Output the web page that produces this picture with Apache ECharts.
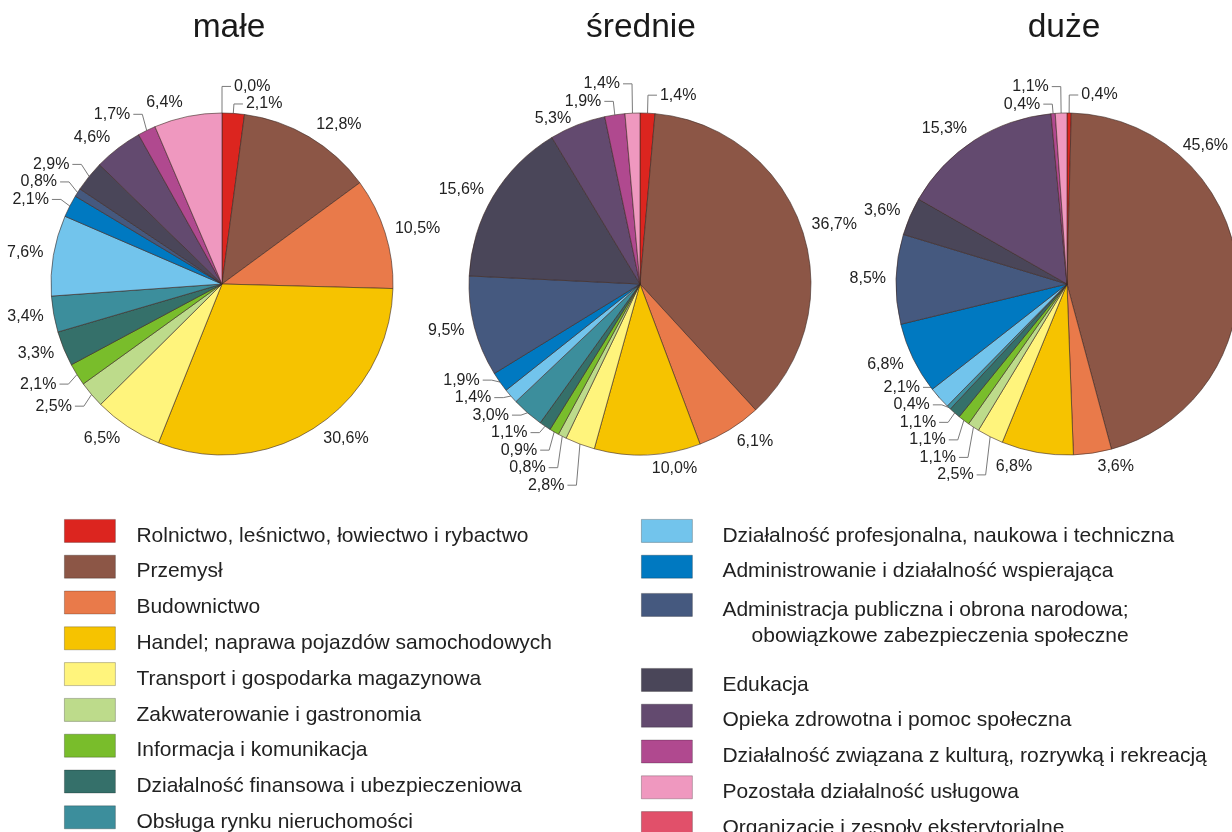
<!DOCTYPE html>
<html>
<head>
<meta charset="utf-8">
<title>Struktura według sekcji</title>
<script src="https://cdn.jsdelivr.net/npm/echarts@6/dist/echarts.min.js"></script>
<style>
  html, body { margin: 0; padding: 0; background: #fff; }
  #chart { width: 1232px; height: 832px; }
</style>
</head>
<body>
<div id="chart"></div>
<script>
// kategorie (sekcje)
const categories = [
  'Rolnictwo, leśnictwo, łowiectwo i rybactwo',
  'Przemysł',
  'Budownictwo',
  'Handel; naprawa pojazdów samochodowych',
  'Transport i gospodarka magazynowa',
  'Zakwaterowanie i gastronomia',
  'Informacja i komunikacja',
  'Działalność finansowa i ubezpieczeniowa',
  'Obsługa rynku nieruchomości',
  'Działalność profesjonalna, naukowa i techniczna',
  'Administrowanie i działalność wspierająca',
  'Administracja publiczna i obrona narodowa; obowiązkowe zabezpieczenia społeczne',
  'Edukacja',
  'Opieka zdrowotna i pomoc społeczna',
  'Działalność związana z kulturą, rozrywką i rekreacją',
  'Pozostała działalność usługowa',
  'Organizacje i zespoły eksterytorialne'
]

const colors = [
  '#dc251f', '#8c5646', '#e97a4a', '#f6c300', '#fff47c', '#bddb8b',
  '#79bd2b', '#35706a', '#3c8e9c', '#72c4ec', '#0079c1', '#45597f',
  '#4a4659', '#634a6f', '#b0498f', '#ef98bf', '#e1506a'
]

const titles = ['małe', 'średnie', 'duże']

// udział w % (null = brak)
const male = [2.1, 12.8, 10.5, 30.6, 6.5, 2.5, 2.1, 3.3, 3.4, 7.6, 2.1, 0.8, 2.9, 4.6, 1.7, 6.4, 0.0]
const srednie = [1.4, 36.7, 6.1, 10.0, 2.8, 0.8, 0.9, 1.1, 3.0, 1.4, 1.9, 9.5, 15.6, 5.3, 1.9, 1.4, null]
const duze = [0.4, 45.6, 3.6, 6.8, 2.5, 1.1, 1.1, 1.1, 0.4, 2.1, 6.8, 8.5, 3.6, 15.3, 0.4, 1.1, null]

const seriesValues = [male, srednie, duze]
const centersX = [222, 640, 1067]
const CY = 284
const R = 171
const W = 1232

const FONT = 'Liberation Sans, Arial, sans-serif'
const LABEL_SIZE = 16
const LABEL_H = 16
const LABEL_GAP = 17.5

// kolejność wycinków od godziny 12 zgodnie z ruchem wskazówek
const pieOrder = [16, 0, 1, 2, 3, 4, 5, 6, 7, 8, 9, 10, 11, 12, 13, 14, 15]

const fmt = v => v.toFixed(1).replace('.', ',') + '%'

const ctx = document.createElement('canvas').getContext('2d')
const textWidth = t => {
  ctx.font = LABEL_SIZE + 'px ' + FONT
  return ctx.measureText(t).width
}

// małe udziały dostają linię odniesienia
const isSmall = v => v < 3.05

const buildData = values => pieOrder
  .filter(i => values[i] !== null)
  .map(i => ({
    name: categories[i],
    value: values[i],
    itemStyle: { color: colors[i] },
    labelLine: { show: isSmall(values[i]) }
  }))

// rozmieszczenie etykiet: duże tuż za łukiem, małe z łamaną linią,
// potem rozsuwanie nachodzących na siebie etykiet w pionie (bez zmiany kolejności)
const layoutLabels = (values, cx) => {
  const vals = pieOrder.filter(i => values[i] !== null).map(i => values[i])
  const total = vals.reduce((s, v) => s + v, 0)
  let cum = 0
  const items = vals.map((v, n) => {
    const t = (cum + v / 2) / total * Math.PI * 2
    cum += v
    const s = Math.sin(t)
    const c = Math.cos(t)
    const it = { n: n, v: v, small: isSmall(v), dir: s >= 0 ? 1 : -1, w: textWidth(fmt(v)) }
    it.p1 = [cx + R * s, CY - R * c]
    if (it.small) {
      it.y = CY - (R + 18) * c
      it.ex = cx + (R + 10) * s
      it.x = it.ex + it.dir * 12
    } else {
      it.x = cx + (R + 6) * s + it.dir * 4
      it.y = CY - (R + 6) * c - c * 8
    }
    it.left = it.dir > 0 ? it.x : it.x - it.w
    if (it.left + it.w > W - 4) {
      // poza prawą krawędzią: przesuń po okręgu do góry
      it.x = W - 4 - it.w
      it.dir = 1
      it.left = it.x
      const dx = it.x - cx
      const rr = R + 3
      it.y = CY - Math.sqrt(Math.max(rr * rr - dx * dx, 0)) - LABEL_H / 2
    }
    it.key = it.y + 0.001 * (it.dir > 0 ? n : -n)
    return it
  })

  const ranked = items.slice().sort((a, b) => a.key - b.key)

  for (let iter = 0; iter < 300; iter++) {
    let moved = false
    for (let i = 0; i < ranked.length; i++) {
      for (let j = i + 1; j < ranked.length; j++) {
        const up = ranked[i]
        const down = ranked[j]
        if (up.left > down.left + down.w + 2 || down.left > up.left + up.w + 2) continue
        const d = down.y - up.y
        if (d >= LABEL_GAP) continue
        const push = (LABEL_GAP - d) / 2 + 0.02
        up.y -= push
        down.y += push
        moved = true
      }
    }
    if (!moved) break
  }
  items.forEach(it => { it.y = Math.max(it.y, LABEL_H / 2 + 2) })
  return items
}

const series = seriesValues.map((values, k) => {
  const items = layoutLabels(values, centersX[k])
  return {
    name: titles[k],
    type: 'pie',
    center: [centersX[k], CY],
    radius: R,
    startAngle: 90,
    clockwise: true,
    avoidLabelOverlap: false,
    emphasis: { disabled: true },
    itemStyle: {
      borderColor: 'rgba(60,40,35,0.75)',
      borderWidth: 0.8
    },
    label: {
      show: true,
      position: 'outside',
      formatter: p => fmt(p.value),
      color: '#222',
      fontSize: LABEL_SIZE,
      fontFamily: FONT,
      lineHeight: LABEL_H,
      width: 60
    },
    labelLine: {
      smooth: false,
      lineStyle: { color: '#7a7a7a', width: 1 }
    },
    labelLayout: params => {
      const it = items[params.dataIndex]
      const out = {
        x: it.x,
        y: it.y,
        align: it.dir > 0 ? 'left' : 'right',
        verticalAlign: 'middle'
      }
      if (it.small) {
        out.labelLinePoints = [it.p1, [it.ex, it.y], [it.x - it.dir * 3, it.y]]
      }
      return out
    },
    data: buildData(values)
  }
})

// ikona: prostokąt 51x23 u góry pola, tekst przesunięty niżej
const iconRow = 'path://M0,0H51V23H0Z M0,33H0.01'
const iconTall = 'path://M0,0H51V23H0Z M0,59H0.01'

const legendBase = {
  orient: 'vertical',
  icon: iconRow,
  itemWidth: 51,
  itemHeight: 33,
  itemGap: 2,
  height: 400,
  padding: 0,
  selectedMode: false,
  itemStyle: { borderColor: 'rgba(0,0,0,0.3)', borderWidth: 0.8 },
  textStyle: {
    color: '#222',
    fontSize: 21,
    fontFamily: FONT,
    padding: [0, 0, 0, 16]
  }
}

const rightText = Object.assign({}, legendBase.textStyle, { padding: [0, 0, 0, 25] })

const option = {
  backgroundColor: '#fff',
  animation: false,
  title: titles.map((t, k) => ({
    text: t,
    left: centersX[k] + [7, 1, -3][k],
    top: 11,
    textAlign: 'center',
    padding: 0,
    textStyle: { color: '#1a1a1a', fontSize: 33.5, fontWeight: 'normal', fontFamily: FONT }
  })),
  legend: [
    Object.assign({}, legendBase, {
      left: 64,
      top: 519,
      data: categories.slice(0, 9)
    }),
    Object.assign({}, legendBase, {
      left: 641,
      top: 519,
      textStyle: rightText,
      data: categories.slice(9, 11)
    }),
    Object.assign({}, legendBase, {
      left: 641,
      top: 593,
      icon: iconTall,
      itemHeight: 59,
      textStyle: Object.assign({}, rightText, { lineHeight: 26 }),
      formatter: name => name.replace('; ', ';\n     '),
      data: categories.slice(11, 12)
    }),
    Object.assign({}, legendBase, {
      left: 641,
      top: 668,
      textStyle: rightText,
      data: categories.slice(12)
    })
  ],
  series: series
}

const myChart = echarts.init(document.getElementById('chart'), null, { renderer: 'canvas' })
myChart.setOption(option)
window.onresize = function () {
  myChart.resize()
}
</script>
</body>
</html>
